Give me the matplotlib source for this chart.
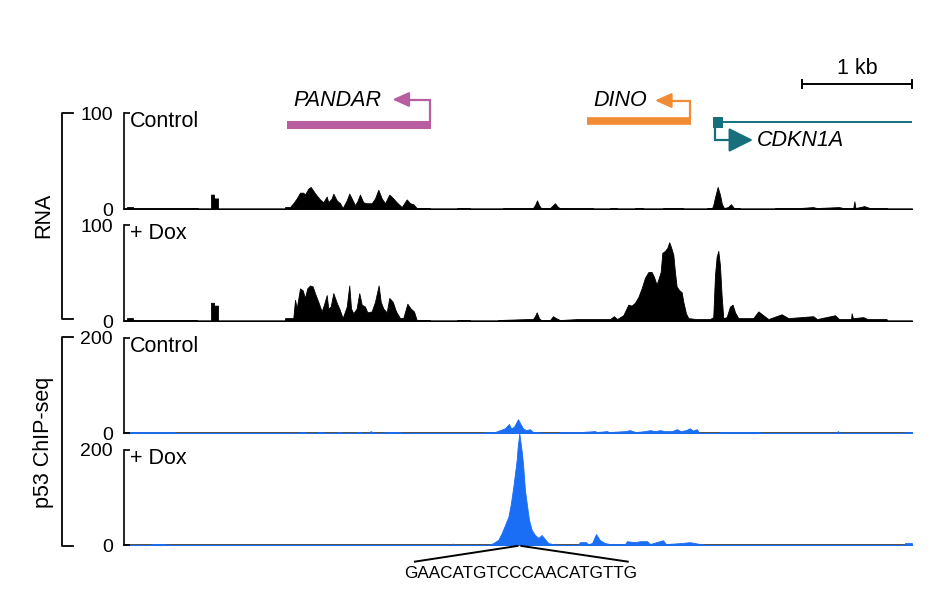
import matplotlib.pyplot as plt
import numpy as np
from matplotlib.patches import Rectangle

plt.rcParams['font.family'] = ['Liberation Sans', 'DejaVu Sans']

# region shown, in kb from the left edge of the tracks
region_kb = 7.164

# coverage profiles: (position kb, coverage)
rna_ctrl = [
    (0.000, 0), (0.027, 0), (0.027, 2), (0.082, 2), (0.082, 1), (0.673, 1), (0.673, 0),
    (0.791, 0), (0.791, 15), (0.818, 15), (0.818, 11), (0.855, 11), (0.855, 0),
    (1.464, 0), (1.464, 2), (1.509, 2), (1.539, 6), (1.570, 11), (1.600, 17), (1.630, 17),
    (1.645, 15), (1.675, 21), (1.697, 23), (1.721, 19), (1.752, 14), (1.782, 10), (1.812, 7),
    (1.843, 13), (1.857, 7), (1.888, 11), (1.903, 16), (1.934, 9), (1.964, 6), (1.988, 1),
    (2.025, 9), (2.048, 16), (2.070, 11), (2.100, 4), (2.121, 8), (2.145, 15), (2.175, 7),
    (2.206, 6), (2.252, 6), (2.282, 11), (2.312, 20), (2.343, 11), (2.373, 6), (2.412, 15),
    (2.448, 11), (2.479, 7), (2.525, 2), (2.570, 10), (2.600, 6), (2.630, 5), (2.661, 1),
    (2.782, 1), (2.782, 0),
    (3.027, 0), (3.027, 1), (3.145, 1), (3.145, 0),
    (3.445, 0), (3.445, 1), (3.718, 1), (3.736, 4), (3.755, 9), (3.773, 4), (3.791, 1),
    (3.873, 1), (3.918, 6), (3.945, 2), (3.964, 1), (4.264, 1), (4.264, 0),
    (4.418, 0), (4.418, 1), (4.482, 1), (4.482, 0), (4.645, 0), (4.645, 1), (4.718, 1),
    (4.718, 0), (4.900, 0), (4.900, 1), (5.082, 1), (5.082, 0),
    (5.300, 0), (5.300, 1), (5.345, 1), (5.355, 3), (5.373, 12), (5.397, 23), (5.418, 15),
    (5.436, 5), (5.455, 1), (5.491, 2), (5.518, 5), (5.545, 1), (5.600, 1), (5.600, 0),
    (5.918, 0), (5.918, 1), (6.145, 1), (6.264, 2), (6.300, 1), (6.500, 2), (6.540, 1),
    (6.630, 1), (6.640, 8), (6.650, 1), (6.730, 3), (6.780, 1), (6.936, 1), (6.936, 0),
    (7.164, 0)]

rna_dox = [
    (0.000, 0), (0.027, 0), (0.027, 3), (0.082, 3), (0.082, 1), (0.664, 1), (0.664, 0),
    (0.791, 0), (0.791, 19), (0.818, 19), (0.818, 16), (0.855, 16), (0.855, 0),
    (1.464, 0), (1.464, 3), (1.539, 3), (1.555, 22), (1.570, 13), (1.600, 34), (1.624, 32),
    (1.645, 24), (1.666, 34), (1.691, 37), (1.715, 36), (1.736, 29), (1.766, 20), (1.797, 10),
    (1.818, 17), (1.843, 27), (1.857, 13), (1.879, 15), (1.903, 29), (1.934, 19), (1.957, 13),
    (1.988, 3), (2.025, 15), (2.048, 37), (2.064, 13), (2.085, 8), (2.115, 13), (2.139, 29),
    (2.161, 17), (2.191, 15), (2.212, 9), (2.252, 10), (2.282, 20), (2.315, 37), (2.334, 20),
    (2.357, 13), (2.388, 9), (2.412, 24), (2.443, 20), (2.473, 10), (2.509, 3), (2.539, 3),
    (2.576, 18), (2.606, 13), (2.636, 10), (2.661, 1), (2.782, 1), (2.782, 0),
    (3.027, 0), (3.027, 1), (3.145, 1), (3.145, 0),
    (3.400, 0), (3.400, 1), (3.664, 2), (3.718, 2), (3.736, 5), (3.752, 9), (3.773, 3),
    (3.791, 1), (3.873, 1), (3.900, 5), (3.927, 3), (3.964, 1), (4.118, 2), (4.264, 2),
    (4.418, 2), (4.455, 5), (4.482, 2), (4.539, 6), (4.585, 17), (4.615, 16), (4.645, 19),
    (4.676, 25), (4.706, 34), (4.736, 45), (4.767, 51), (4.797, 51), (4.818, 46), (4.842, 38),
    (4.857, 43), (4.879, 51), (4.894, 71), (4.918, 73), (4.939, 76), (4.957, 82), (4.973, 77),
    (4.994, 69), (5.009, 51), (5.024, 36), (5.048, 32), (5.070, 30), (5.085, 20), (5.109, 8),
    (5.130, 3), (5.206, 2), (5.327, 2), (5.357, 4), (5.373, 48), (5.388, 67), (5.403, 73),
    (5.418, 58), (5.433, 27), (5.448, 3), (5.479, 4), (5.509, 15), (5.533, 17), (5.555, 9),
    (5.585, 3), (5.721, 3), (5.767, 10), (5.812, 6), (5.858, 2), (5.979, 7), (6.039, 3),
    (6.266, 5), (6.300, 2), (6.464, 6), (6.500, 2), (6.610, 2), (6.615, 8), (6.627, 3),
    (6.721, 4), (6.760, 2), (6.933, 2), (6.936, 0), (7.164, 0)]

chip_ctrl = [
    (0.000, 0), (0.055, 0), (0.055, 2), (0.464, 2), (0.464, 0),
    (1.600, 0), (1.600, 2), (1.640, 2), (1.640, 0), (1.760, 0), (1.760, 2), (1.800, 2),
    (1.800, 0), (1.945, 0), (1.945, 2), (1.973, 2), (1.973, 0), (2.120, 0), (2.120, 2),
    (2.150, 2), (2.150, 0), (2.236, 0), (2.240, 4), (2.260, 2), (2.280, 0), (2.373, 0),
    (2.373, 2), (2.510, 2), (2.510, 0),
    (3.282, 0), (3.282, 2), (3.373, 2), (3.418, 6), (3.464, 10), (3.500, 19), (3.518, 10),
    (3.545, 13), (3.582, 29), (3.600, 21), (3.627, 10), (3.655, 6), (3.691, 8), (3.718, 2),
    (3.782, 2), (3.782, 0),
    (3.964, 0), (3.964, 2), (4.145, 2), (4.282, 4), (4.300, 2), (4.391, 4), (4.410, 2),
    (4.555, 4), (4.600, 6), (4.650, 2), (4.736, 4), (4.782, 6), (4.830, 4), (4.873, 6),
    (4.918, 4), (4.982, 4), (5.027, 8), (5.060, 4), (5.109, 6), (5.145, 10), (5.170, 5),
    (5.209, 8), (5.227, 0),
    (5.418, 0), (5.418, 2), (5.782, 2), (5.782, 0), (6.470, 0), (6.491, 4), (6.510, 0),
    (7.100, 0), (7.100, 2), (7.164, 2)]

chip_dox = [
    (0.000, 0), (0.236, 0), (0.255, 2), (0.373, 2), (0.390, 0),
    (2.980, 0), (2.990, 3), (3.000, 0),
    (3.309, 0), (3.357, 4), (3.403, 11), (3.434, 25), (3.464, 42), (3.494, 59), (3.515, 84),
    (3.539, 122), (3.555, 151), (3.570, 179), (3.579, 206), (3.594, 235), (3.606, 214),
    (3.618, 193), (3.630, 164), (3.645, 116), (3.661, 88), (3.682, 53), (3.706, 32),
    (3.736, 21), (3.767, 15), (3.797, 21), (3.818, 15), (3.857, 4), (3.900, 2), (3.964, 0),
    (4.127, 0), (4.145, 6), (4.200, 6), (4.218, 2), (4.255, 4), (4.291, 23), (4.327, 10),
    (4.373, 4), (4.418, 2), (4.555, 2), (4.573, 8), (4.645, 6), (4.691, 8), (4.755, 8),
    (4.782, 2), (4.900, 10), (4.927, 2), (5.055, 4), (5.145, 6), (5.236, 2), (5.300, 0),
    (7.100, 0), (7.100, 4), (7.164, 4)]

track_data = [rna_ctrl, rna_dox, chip_ctrl, chip_dox]
track_labels = ['Control', '+ Dox', 'Control', '+ Dox']
track_ymax = [100, 100, 200, 200]
track_colors = ['black', 'black', '#1a6ef5', '#1a6ef5']

# genes (kb)
gene_names = ['PANDAR', 'DINO', 'CDKN1A']
gene_start = [1.482, 4.209, 5.355]
gene_end = [2.791, 5.155, 7.164]
gene_colors = ['#b85ea0', '#f28b36', '#16707b']

motif_pos = 3.595
motif_seq = 'GAACATGTCCCAACATGTTG'

W, H = 942, 612
fig = plt.figure(figsize=(W / 100, H / 100), dpi=100)


def px_box(x0, y0, x1, y1):
    return [x0 / W, 1 - y1 / H, (x1 - x0) / W, (y1 - y0) / H]


track_px = [(113, 209), (225, 321), (338, 433), (450, 545)]
axes = []
for data, lab, ymax, col, (top, bot) in zip(track_data, track_labels, track_ymax,
                                             track_colors, track_px):
    ax = fig.add_axes(px_box(124, top, 912, bot))
    pos, cov = np.array(data, dtype=float).T
    ax.fill_between(pos, cov, color=col, lw=0.6, clip_on=False)
    ax.set_xlim(0, region_kb)
    ax.set_ylim(0, ymax)
    ax.set_xticks([])
    ax.set_yticks([0, ymax])
    ax.tick_params(axis='y', direction='in', length=4, width=1.2, pad=8, labelsize=14)
    for s in ['top', 'right']:
        ax.spines[s].set_visible(False)
    ax.spines['left'].set_linewidth(1.2)
    ax.spines['bottom'].set_linewidth(1.2)
    ax.spines['bottom'].set_color('#333333')
    ax.spines['bottom'].set_zorder(0)
    ax.text(0.008, 0.91, lab, transform=ax.transAxes, fontsize=15.5, va='center')
    axes.append(ax)

# group brackets and labels
for top, bot, lab, yc in [(113, 319, 'RNA', 215), (337, 546, 'p53 ChIP-seq', 442)]:
    fig.add_artist(plt.Line2D([73 / W, 62 / W, 62 / W, 73 / W],
                              [1 - top / H, 1 - top / H, 1 - bot / H, 1 - bot / H],
                              color='black', lw=1.3))
    fig.text(44 / W, 1 - yc / H, lab, rotation=90, ha='center', va='center', fontsize=15.5)

# gene annotation panel (y in pixel rows)
ann = fig.add_axes(px_box(124, 50, 912, 160))
ann.set_xlim(0, region_kb)
ann.set_ylim(160, 50)
ann.axis('off')


def tss_arrow(x, y0, y1, tip, col, hl, hw, lw=1.6):
    ann.plot([x, x, tip + (x - tip) * 0.3], [y0, y1, y1], color=col, lw=lw,
             solid_joinstyle='miter', solid_capstyle='butt')
    ann.annotate('', xy=(tip, y1), xytext=(tip + (x - tip) * 0.4, y1),
                 arrowprops=dict(arrowstyle='-|>,head_length=%g,head_width=%g' % (hl, hw),
                                 color=col, lw=lw, shrinkA=0, shrinkB=0, mutation_scale=10))


# PANDAR
c = gene_colors[0]
ann.plot([gene_start[0], gene_end[0]], [124.5, 124.5], color=c, lw=5.8, solid_capstyle='butt')
tss_arrow(gene_end[0] - 0.009, 121, 99.5, 2.44, c, 1.0, 0.45)
ann.text(1.536, 100.7, gene_names[0], style='italic', va='center', fontsize=15.5)

# DINO
c = gene_colors[1]
ann.plot([gene_start[1], gene_end[1]], [120.5, 120.5], color=c, lw=5.5, solid_capstyle='butt')
tss_arrow(gene_end[1] - 0.01, 117.5, 100.5, 4.827, c, 1.0, 0.45)
ann.text(4.264, 100, gene_names[1], style='italic', va='center', fontsize=15.5)

# CDKN1A
c = gene_colors[2]
ann.plot([gene_start[2] + 0.09, gene_end[2]], [122.3, 122.3], color=c, lw=1.4)
ann.add_patch(Rectangle((gene_start[2], 117), 0.09, 11, color=c, lw=0))
tss_arrow(gene_start[2] + 0.018, 128, 140, 5.718, c, 1.5, 0.75)
ann.text(5.755, 140.7, gene_names[2], style='italic', va='center', fontsize=15.5)

# scale bar
ann.plot([region_kb - 1, region_kb], [84, 84], color='black', lw=1.4)
for x in [region_kb - 1, region_kb]:
    ann.plot([x, x], [80, 88], color='black', lw=1.4, clip_on=False)
ann.text(region_kb - 0.5, 68, '1 kb', ha='center', va='center', fontsize=15.5)

# p53 motif under the +Dox peak
ax = axes[3]
tr = ax.get_xaxis_transform()
ax.plot([2.645, motif_pos - 0.018], [-0.175, -0.01], color='black', lw=1.4,
        transform=tr, clip_on=False)
ax.plot([motif_pos + 0.018, 4.58], [-0.01, -0.175], color='black', lw=1.4,
        transform=tr, clip_on=False)
ax.text(motif_pos + 0.015, -0.305, motif_seq, transform=tr, ha='center', va='center',
        fontsize=12.3)

fig.savefig('out.png', dpi=100)
